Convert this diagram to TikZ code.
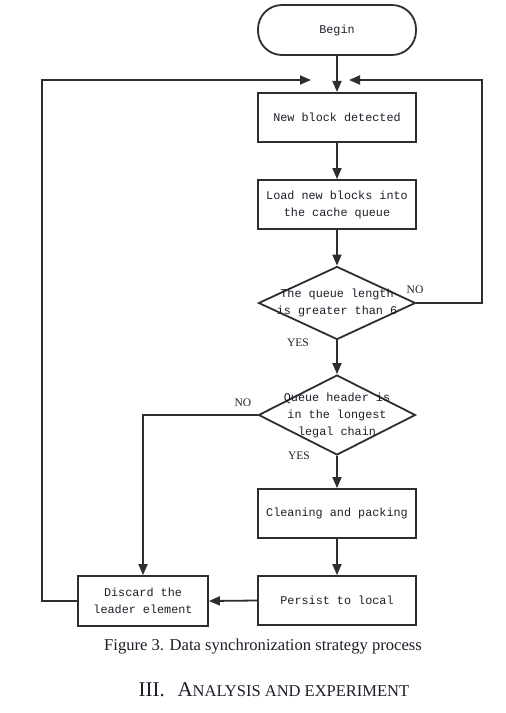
\documentclass[tikz,border=0pt]{standalone}
\usepackage{fontspec}
\setmainfont{Liberation Serif}
\newfontfamily\monofont{Liberation Mono}
\usetikzlibrary{shapes.geometric,arrows.meta}
\definecolor{linec}{HTML}{2E2E2E}
\definecolor{txtc}{HTML}{1E1E2A}
\begin{document}
\begin{tikzpicture}[x=1pt,y=-1pt,
  every node/.style={text=txtc},
  box/.style={draw=linec,line width=1.8pt,minimum width=158pt,minimum height=49pt,inner sep=0pt,align=center,font=\monofont\fontsize{11.8}{17}\selectfont},
  term/.style={box,rounded corners=24pt,minimum height=50pt},
  dia/.style={draw=linec,line width=1.8pt,diamond,inner sep=0pt,minimum width=157pt},
  dtxt/.style={align=center,inner sep=0pt,font=\monofont\fontsize{11.8}{17}\selectfont},
  lbl/.style={inner sep=0pt,font=\fontsize{11.5}{13}\selectfont},
  conn/.style={draw=linec,line width=1.8pt},
  arr/.style={conn,-{Triangle[length=11pt,width=9pt]}}]
\useasboundingbox[fill=white] (0,0) rectangle (506,713);

\node[term] (begin) at (337,30) {Begin};
\node[box] (nb) at (337,117.5) {New block detected};
\node[box] (load) at (337,204.5) {Load new blocks into\\the cache queue};
\node[dia,minimum height=73pt] (d1) at (337,303) {};
\node[dtxt] (d1t) at (337,303) {The queue length\\is greater than 6};
\node[dia,minimum height=80pt] (d2) at (337,415) {};
\node[dtxt] (d2t) at (337,415) {Queue header is\\in the longest\\legal chain};
\node[box] (clean) at (337,513.5) {Cleaning and packing};
\node[box] (persist) at (337,600.5) {Persist to local};
\node[box,minimum width=130pt,minimum height=50pt] (discard) at (143,601) {Discard the\\leader element};

\coordinate (mr) at (349,80);
\coordinate (ml) at (311,80);
\coordinate (rx) at (482,0);
\coordinate (lx) at (42,0);

\draw[arr] (begin.south) -- ++(0,36);
\draw[arr] (nb.south) -- (load.north);
\draw[arr] (load.south) -- (d1.north);
\draw[arr] (d1.south) -- (d2.north);
\draw[arr] (d2.south) -- (clean.north);
\draw[arr] (clean.south) -- (persist.north);
\draw[arr] (persist.west) -- (discard.east);
\draw[arr] (d1.east) -- (d1.east -| rx) |- (mr);
\draw[arr] (discard.west) -- (discard.west -| lx) |- (ml);
\draw[arr] (d2.west) -| (discard.north);

\node[lbl] (no1) at (415,290) {NO};
\node[lbl] (yes1) at (298,343) {YES};
\node[lbl] (no2) at (243,403) {NO};
\node[lbl] (yes2) at (299,456) {YES};

\node[inner sep=0pt,font=\fontsize{16.6}{19}\selectfont] (cap) at (263,647) {Figure 3. Data synchronization strategy process};
\node[inner sep=0pt,font=\fontsize{21}{24}\selectfont] (sec) at (274,690) {III.\hspace{0.6em}A{\fontsize{16.5}{19}\selectfont NALYSIS AND EXPERIMENT}};
\end{tikzpicture}
\end{document}
